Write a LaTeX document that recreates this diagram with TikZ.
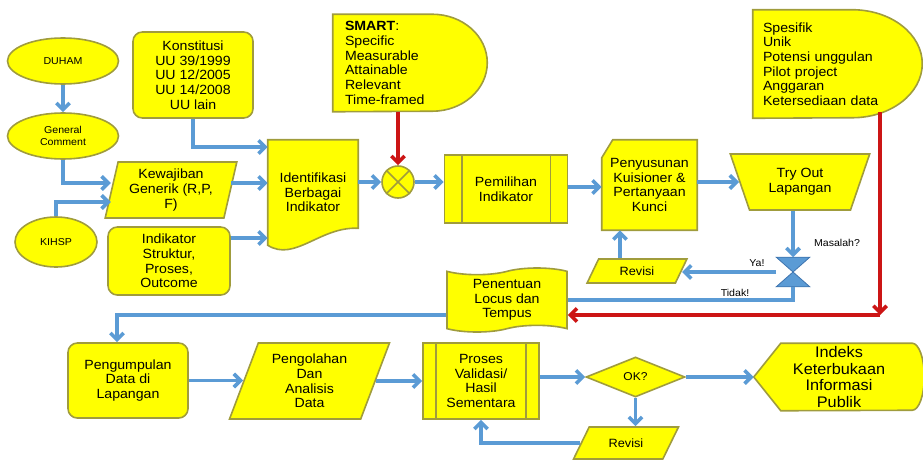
\documentclass[tikz,border=0pt]{standalone}
\usepackage{fontspec}
\setmainfont[FakeStretch=1.06]{Liberation Sans}
\usepackage{tikz}
\usetikzlibrary{calc,arrows.meta,positioning,shapes.geometric,shapes.symbols,backgrounds}
\definecolor{fillc}{HTML}{FFFF00}
\definecolor{bordc}{HTML}{A09C3C}
\definecolor{arrc}{HTML}{5B9BD5}
\definecolor{redc}{HTML}{CC1515}
\definecolor{darkc}{HTML}{3F75B0}
\tikzset{
  ar/.style={-{Straight Barb[length=5pt,width=10pt]},line width=2.7pt,arrc},
  ln/.style={line width=2.7pt,arrc},
  rar/.style={-{Straight Barb[length=5pt,width=10pt]},line width=2.7pt,redc},
  box/.style={draw=bordc,line width=1.2pt,fill=fillc,align=center,inner sep=2pt,font=\fontsize{10}{11}\selectfont},
  oval/.style={box,ellipse,font=\fontsize{7.5}{8.5}\selectfont},
  rbox/.style={box,rounded corners=7pt},
  para/.style={box,trapezium,trapezium stretches=true},
  bare/.style={align=center,inner sep=2pt,font=\fontsize{10}{11}\selectfont},
  shp/.style={draw=bordc,line width=1.2pt,fill=fillc},
  sep/.style={draw=bordc,line width=1.2pt},
  lbl/.style={font=\fontsize{7.5}{8.5}\selectfont,inner sep=1pt}
}
\begin{document}
\begin{tikzpicture}[x=0.75pt,y=-0.75pt]
\useasboundingbox (0,0) rectangle (923,460);
\node[oval,minimum width=83.25pt,minimum height=34.5pt] (duham) at (63,61) {DUHAM};
\node[oval,minimum width=83.25pt,minimum height=34.5pt] (gc) at (63,136) {General\\Comment};
\node[oval,minimum width=61.5pt,minimum height=37.5pt] (kihsp) at (56,242) {KIHSP};
\node[rbox,minimum width=90pt,minimum height=64.5pt] (konst) at (193,75) {Konstitusi\\UU 39/1999\\UU 12/2005\\UU 14/2008\\UU lain};
\node[para,trapezium left angle=77,trapezium right angle=103,minimum width=99pt,minimum height=42pt] (kew) at (171,190) {Kewajiban\\Generik (R,P,\\F)};
\node[rbox,minimum width=91.5pt,minimum height=51pt] (indstr) at (169,261) {Indikator\\Struktur,\\Proses,\\Outcome};
\node[bare,minimum width=67.5pt,minimum height=78.75pt] (idf) at (313,192.5) {Identifikasi\\Berbagai\\Indikator};
\node[bare,minimum width=115.5pt,minimum height=72.75pt,text width=97.5pt,inner xsep=9pt,align=left] (smart) at (410,63) {\textbf{SMART}:\\Specific\\Measurable\\Attainable\\Relevant\\Time-framed};
\node[circle,draw=bordc,line width=1.2pt,fill=fillc,minimum size=24pt,inner sep=0pt] (sum) at (398,182) {};
\draw[sep] (sum.north west)--(sum.south east) (sum.north east)--(sum.south west);
\node[box,minimum width=92.25pt,minimum height=51pt] (pem) at (506,189) {Pemilihan\\Indikator};
\draw[sep] ([xshift=13.5pt]pem.north west)--([xshift=13.5pt]pem.south west) ([xshift=-13.5pt]pem.north east)--([xshift=-13.5pt]pem.south east);
\node[bare,minimum width=71.25pt,minimum height=67.5pt] (pen) at (649.5,185) {Penyusunan\\Kuisioner \&\\Pertanyaan\\Kunci};
\node[para,trapezium left angle=112,trapezium right angle=112,minimum width=105pt,minimum height=42pt] (try) at (800,182) {Try Out\\Lapangan};
\node[inner sep=0pt,minimum width=24.75pt,minimum height=21.75pt] (coll) at (793,272) {};
\filldraw[fill=arrc,draw=darkc,line width=0.6pt] (coll.north west)--(coll.north east)--(coll.south west)--(coll.south east)--cycle;
\node[para,trapezium left angle=67,trapezium right angle=113,minimum width=75pt,minimum height=18pt,font=\fontsize{9}{10}\selectfont] (rev1) at (637,271) {Revisi};
\node[bare,minimum width=126.75pt,minimum height=81pt,text width=111.75pt,inner xsep=7.5pt,align=left] (spes) at (837.5,64) {Spesifik\\Unik\\Potensi unggulan\\Pilot project\\Anggaran\\Ketersediaan data};
\node[box,tape,minimum width=90pt,minimum height=48pt] (ptn) at (507,300) {Penentuan\\Locus dan\\Tempus};
\node[rbox,minimum width=90pt,minimum height=56.25pt] (pgp) at (128,380.5) {Pengumpulan\\Data di\\Lapangan};
\node[para,trapezium left angle=69,trapezium right angle=111,minimum width=120.75pt,minimum height=57pt] (pgl) at (309.5,381) {Pengolahan\\Dan\\Analisis\\Data};
\node[box,minimum width=87pt,minimum height=57pt] (pvh) at (481,381) {Proses\\Validasi/\\Hasil\\Sementara};
\draw[sep] ([xshift=10.5pt]pvh.north west)--([xshift=10.5pt]pvh.south west) ([xshift=-10.5pt]pvh.north east)--([xshift=-10.5pt]pvh.south east);
\node[box,diamond,aspect=2.5,minimum width=74.25pt,minimum height=30pt,inner sep=0pt,font=\fontsize{8.5}{9.5}\selectfont] (ok) at (635.5,377) {OK?};
\node[bare,inner ysep=0pt,minimum width=127.5pt,minimum height=50.25pt,font=\fontsize{11.5}{12.5}\selectfont] (idx) at (839,377) {Indeks\\Keterbukaan\\Informasi\\Publik};
\node[para,trapezium left angle=59,trapezium right angle=121,minimum width=78.75pt,minimum height=24pt,font=\fontsize{9}{10}\selectfont] (rev2) at (626,443) {Revisi};
\begin{scope}[on background layer]
\path[shp] (idf.north west)--(idf.north east)--([yshift=12.75pt]idf.south east) .. controls +(-38,-2) and +(27,17) .. (idf.south west)--cycle;
\path[shp] (smart.north west)--([xshift=-41.25pt]smart.north east) arc[start angle=90,end angle=-90,x radius=41.25pt,y radius=36.375pt]--(smart.south west)--cycle;
\path[shp] (spes.north west)--([xshift=-52.5pt]spes.north east) arc[start angle=90,end angle=-90,x radius=52.5pt,y radius=40.5pt]--(spes.south west)--cycle;
\path[shp] ([yshift=-13.5pt]pen.north west)--([xshift=8.25pt]pen.north west)--(pen.north east)--(pen.south east)--(pen.south west)--cycle;
\path[shp] (idx.west)--([xshift=20.25pt]idx.north west)--([xshift=-9pt]idx.north east) arc[start angle=90,end angle=-90,x radius=9pt,y radius=25.125pt]--([xshift=20.25pt]idx.south west)--cycle;
\end{scope}
\draw[ar] (duham) -- (gc);
\draw[ar] (konst.south) |- (idf.west |- 0,147);
\draw[ar] (gc.south) |- (kew.west |- 0,183);
\draw[ar] (kihsp.north) |- (kew.west |- 0,202);
\draw[ar] (kew.east |- 0,183) -- (idf.west |- 0,183);
\draw[ar] (indstr.east |- 0,238) -- (idf.west |- 0,238);
\draw[ar] (idf.east |- sum.west) -- (sum.west);
\draw[rar] (smart.south -| sum.north) -- (sum.north);
\draw[ar] (sum.east) -- (pem.west |- sum.east);
\draw[ar] (pem.east |- 0,187) -- (pen.west |- 0,187);
\draw[ar] (pen.east |- try.west) -- (try.west);
\draw[ar] (try.south -| coll.north) -- (coll.north);
\draw[ar] (coll.west) -- (rev1.east |- coll.west);
\coordinate (r1) at ([xshift=-12.75pt]rev1.north);
\draw[ar] (r1) -- (r1 |- pen.south);
\draw[ln] (coll.south) |- (ptn.east);
\coordinate (rc) at (880,315);
\coordinate (rs) at ($(rc |- spes.south)+(0,-6)$);
\draw[rar] (rs) -- (rc);
\draw[rar] (rc) -- (ptn.east |- rc);
\coordinate (pc) at ([xshift=-8.25pt]pgp.north);
\draw[ar] (ptn.west |- 0,315) -| (pc);
\draw[ar] (pgp.east) -- (pgl.west |- pgp.east);
\draw[ar] (pgl.east) -- (pvh.west |- pgl.east);
\draw[ar] (pvh.east |- ok.west) -- (ok.west);
\draw[ar] (ok.east) -- (idx.west);
\draw[ar] (ok.south) -- (ok.south |- rev2.north);
\draw[ar] (rev2.west) -| (pvh.south);
\node[lbl] (mas) at (837,243) {Masalah?};
\node[lbl] (ya) at (757,263) {Ya!};
\node[lbl] (tdk) at (735,293) {Tidak!};
\end{tikzpicture}
\end{document}
